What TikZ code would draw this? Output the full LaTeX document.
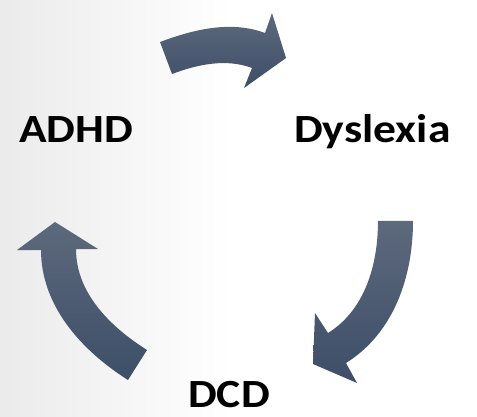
\documentclass[tikz,border=0pt]{standalone}
\usepackage{fontspec}
\setmainfont[FakeStretch=1.14]{Carlito}
\definecolor{arrowtop}{RGB}{93,105,124}
\definecolor{arrowbot}{RGB}{61,78,104}

\begin{document}
\begin{tikzpicture}[x=1pt,y=-1pt]
\tikzstyle{every node}=[font=\bfseries\fontsize{40}{40}\selectfont,inner sep=0pt];
\tikzstyle{cyclearrow}=[top color=arrowtop,bottom color=arrowbot,draw=none];
\useasboundingbox (0,0) rectangle (477,417);
% paper on the left, fading out
\shade[left color=black!8,right color=white] (0,0) rectangle (230,417);
\node[anchor=base west] (adhd) at (19,143) {ADHD};
\node[anchor=base west] (dys) at (294,143) {Dyslexia};
\node[anchor=base west] (dcd) at (188,407) {DCD};
% ADHD -> Dyslexia
\shade[cyclearrow] (160,42) .. controls (194,29.3) and (231,20.3) .. (265,33) -- (272,13) -- (286,58) -- (244,88) -- (252,68) .. controls (226.1,58.3) and (197.8,64.3) .. (172,74) -- cycle;
% Dyslexia -> DCD
\shade[cyclearrow] (378,221) -- (413,221) .. controls (413,277) and (393.6,333.3) .. (346,363) -- (357,383) -- (313,364) -- (315,313) -- (328,333) .. controls (365,310) and (378,264.6) .. (378,221) -- cycle;
% DCD -> ADHD
\shade[cyclearrow] (128,380) .. controls (81.1,350.3) and (41,305.5) .. (41,250) -- (17,250) -- (55,222) -- (98,249) -- (76,249) .. controls (76,292.9) and (109.9,326.5) .. (147,350) -- cycle;
\end{tikzpicture}
\end{document}
